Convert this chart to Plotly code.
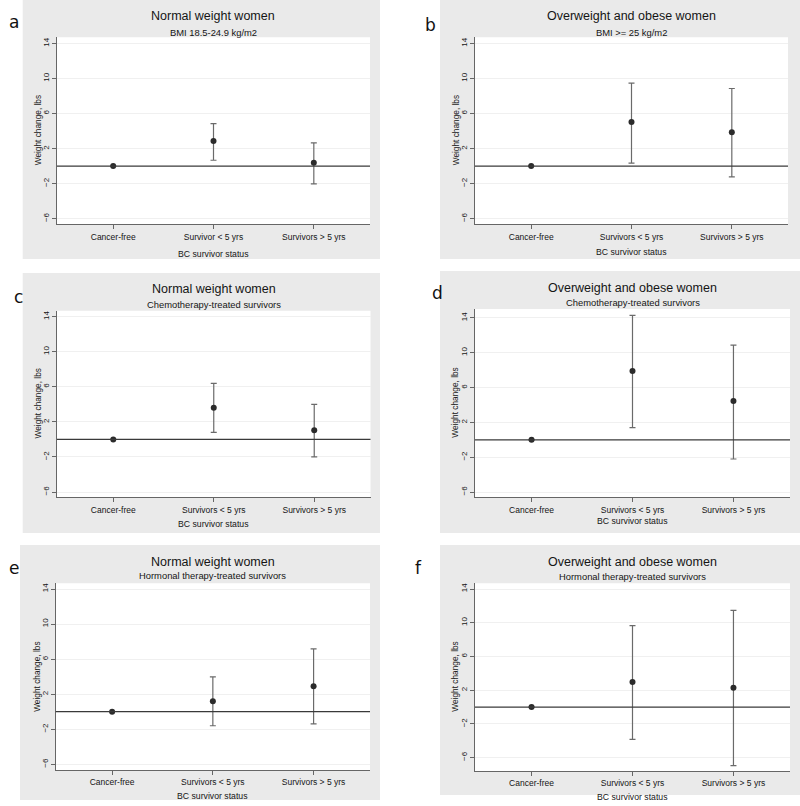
import plotly.graph_objects as go

W, H = 800, 806

categories_ab = ["Cancer-free", "Survivor < 5 yrs", "Survivors > 5 yrs"]
categories = ["Cancer-free", "Survivors < 5 yrs", "Survivors > 5 yrs"]

# point estimate, upper CI, lower CI for each panel
a_est = [0, 2.88, 0.37]
a_hi = [0, 4.86, 2.65]
a_lo = [0, 0.67, -2.03]

b_est = [0, 5.02, 3.87]
b_hi = [0, 9.47, 8.86]
b_lo = [0, 0.33, -1.23]

c_est = [0, 3.61, 1.04]
c_hi = [0, 6.39, 4.0]
c_lo = [0, 0.81, -2.0]

d_est = [0, 7.92, 4.47]
d_hi = [0, 14.29, 10.87]
d_lo = [0, 1.41, -2.2]

e_est = [0, 1.2, 2.9]
e_hi = [0, 3.98, 7.17]
e_lo = [0, -1.6, -1.38]

f_est = [0, 2.98, 2.3]
f_hi = [0, 9.66, 11.48]
f_lo = [0, -3.82, -6.95]

ytick_vals = [14, 10, 6, 2, -2, -6]

titles = ["Normal weight women", "Overweight and obese women"] * 3
subtitles = ["BMI 18.5-24.9 kg/m2", "BMI >= 25 kg/m2",
             "Chemotherapy-treated survivors", "Chemotherapy-treated survivors",
             "Hormonal therapy-treated survivors", "Hormonal therapy-treated survivors"]
letters = ["a", "b", "c", "d", "e", "f"]

panels = [
    dict(est=a_est, hi=a_hi, lo=a_lo, cats=categories_ab, plot=(57, 370, 37.3, 224.3),
         bg=(22.7, 380, 0, 259), yr=[-6.64, 14.7], title_y=15.7, sub_y=32.3, xt_y=254, letter=(7, 22)),
    dict(est=b_est, hi=b_hi, lo=b_lo, cats=categories, plot=(475, 788, 37.3, 224.3),
         bg=(440, 800, 0, 259), yr=[-6.64, 14.7], title_y=15.7, sub_y=32.3, xt_y=252, letter=(423, 25)),
    dict(est=c_est, hi=c_hi, lo=c_lo, cats=categories, plot=(57, 370.5, 310.7, 497.3),
         bg=(22.7, 380, 273, 533), yr=[-6.6, 14.68], title_y=288.7, sub_y=304.7, xt_y=524, letter=(12, 297)),
    dict(est=d_est, hi=d_hi, lo=d_lo, cats=categories, plot=(475, 790, 309, 497.3),
         bg=(440, 800, 271, 533), yr=[-6.6, 15.03], title_y=288, sub_y=303, xt_y=521.3, letter=(430, 293)),
    dict(est=e_est, hi=e_hi, lo=e_lo, cats=categories, plot=(55.7, 370, 583.3, 770),
         bg=(20, 380, 545, 800), yr=[-6.65, 14.65], title_y=561.7, sub_y=575, xt_y=795.7, letter=(7, 568)),
    dict(est=f_est, hi=f_hi, lo=f_lo, cats=categories, plot=(475, 790, 583.3, 771),
         bg=(440, 800, 545, 795), yr=[-7.58, 14.68], title_y=561.7, sub_y=576.7, xt_y=796.7, letter=(413, 568)),
]

FONT = "Liberation Sans, Arial, sans-serif"
TXT = "#151515"


def px_x(v):
    return v / W


def px_y(v):
    return 1 - v / H


fig = go.Figure()
shapes = []
annotations = []
layout = {}

for i, p in enumerate(panels):
    n = "" if i == 0 else str(i + 1)
    xa, ya = "x" + n, "y" + n
    l, r, t, b = p["plot"]
    bl, br, bt, bb = p["bg"]

    # grey graph region behind the white plot area
    shapes.append(dict(type="rect", xref="paper", yref="paper", layer="below",
                       x0=px_x(bl), x1=px_x(br), y0=px_y(bb), y1=px_y(bt),
                       fillcolor="#eaeaea", line=dict(width=0)))
    shapes.append(dict(type="rect", xref="paper", yref="paper", layer="below",
                       x0=px_x(l), x1=px_x(r), y0=px_y(b), y1=px_y(t),
                       fillcolor="white", line=dict(width=0)))
    # reference line at zero
    shapes.append(dict(type="line", xref=xa + " domain", yref=ya, x0=0, x1=1, y0=0, y1=0,
                       line=dict(color="#3a3a3a", width=1.2)))

    xs = list(range(len(p["cats"])))
    fig.add_trace(go.Scatter(
        x=xs, y=p["est"], mode="markers", xaxis=xa, yaxis=ya, showlegend=False,
        marker=dict(size=6, color="#2b2b2b"),
        error_y=dict(type="data", symmetric=False,
                     array=[h - e for h, e in zip(p["hi"], p["est"])],
                     arrayminus=[e - lo for e, lo in zip(p["est"], p["lo"])],
                     color="#6a6a6a", thickness=1.2, width=3),
    ))

    layout["xaxis" + n] = dict(
        domain=[px_x(l), px_x(r)], anchor=ya, range=[-0.56, 2.56],
        tickvals=xs, ticktext=p["cats"], ticks="outside", ticklen=4, tickcolor="#666",
        showline=True, linecolor="#666", linewidth=1, showgrid=False, zeroline=False,
        tickfont=dict(family=FONT, size=8.5, color=TXT), fixedrange=True,
    )
    layout["yaxis" + n] = dict(
        domain=[px_y(b), px_y(t)], anchor=xa, range=p["yr"],
        tickvals=ytick_vals, ticks="outside", ticklen=4, tickcolor="#666", tickangle=-90,
        showline=True, linecolor="#666", linewidth=1, showgrid=True, gridcolor="#f0f0f0",
        zeroline=False, tickfont=dict(family=FONT, size=8, color=TXT), fixedrange=True,
    )

    cx = px_x((l + r) / 2)
    annotations.append(dict(text=titles[i], x=cx, y=px_y(p["title_y"]), xref="paper", yref="paper",
                            showarrow=False, xanchor="center", yanchor="middle",
                            font=dict(family=FONT, size=12.5, color=TXT)))
    annotations.append(dict(text=subtitles[i], x=cx, y=px_y(p["sub_y"]), xref="paper", yref="paper",
                            showarrow=False, xanchor="center", yanchor="middle",
                            font=dict(family=FONT, size=9.4, color=TXT)))
    annotations.append(dict(text="BC survivor status", x=cx, y=px_y(p["xt_y"]), xref="paper", yref="paper",
                            showarrow=False, xanchor="center", yanchor="middle",
                            font=dict(family=FONT, size=8.7, color=TXT)))
    annotations.append(dict(text="Weight change, lbs", x=px_x(l - 19.5), y=px_y((t + b) / 2),
                            xref="paper", yref="paper", showarrow=False, textangle=-90,
                            xanchor="center", yanchor="middle", font=dict(family=FONT, size=8.3, color=TXT)))
    lx, ly = p["letter"]
    annotations.append(dict(text=letters[i], x=px_x(lx), y=px_y(ly), xref="paper", yref="paper",
                            showarrow=False, xanchor="left", yanchor="middle",
                            font=dict(family="DejaVu Sans, sans-serif", size=17, color="#111")))

fig.update_layout(
    width=W, height=H, margin=dict(l=0, r=0, t=0, b=0),
    paper_bgcolor="white", plot_bgcolor="rgba(0,0,0,0)",
    shapes=shapes, annotations=annotations, **layout,
)

fig.write_html("out.html", config={"displayModeBar": False},
               post_script="document.body.style.margin='0px';")
